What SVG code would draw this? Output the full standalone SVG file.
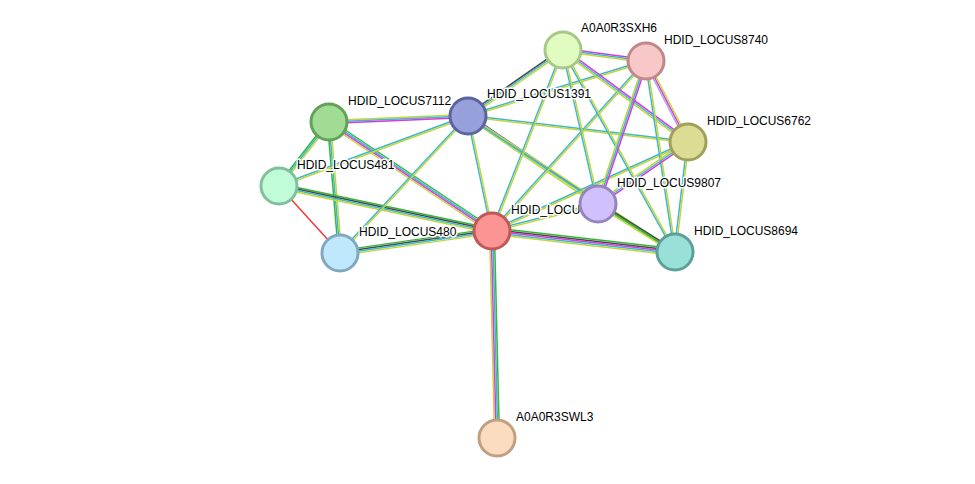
<svg xmlns="http://www.w3.org/2000/svg" width="975" height="484" viewBox="0 0 975 484">
<style>
line{stroke-width:1.5;fill:none}
.c{stroke:#3cb6d8}.y{stroke:#c2d63a}.m{stroke:#d93ad9}.g{stroke:#35b835}.k{stroke:#4a4a4a}.b{stroke:#2b2bf0}.r{stroke:#f03a3a}.l{stroke:#a8a0f0}
circle{stroke-width:3}
text{font-family:"Liberation Sans",Arial,sans-serif;font-size:12px;fill:#000;paint-order:stroke;stroke:#fff;stroke-width:3px;stroke-linejoin:round}
</style>
<rect width="975" height="484" fill="#fff"/>
<g id="edges">
<line class="y" x1="329" y1="122" x2="468" y2="116" transform="translate(0,-1.6)"/>
<line class="c" x1="329" y1="122" x2="468" y2="116"/>
<line class="m" x1="329" y1="122" x2="468" y2="116" transform="translate(0,1.6)"/>
<line class="g" x1="329" y1="122" x2="279" y2="186" transform="translate(-1.26,-0.99)"/>
<line class="c" x1="329" y1="122" x2="279" y2="186"/>
<line class="y" x1="329" y1="122" x2="279" y2="186" transform="translate(1.26,0.99)"/>
<line class="g" x1="329" y1="122" x2="340" y2="253" transform="translate(-1.6,0)"/>
<line class="c" x1="329" y1="122" x2="340" y2="253"/>
<line class="y" x1="329" y1="122" x2="340" y2="253" transform="translate(1.6,0)"/>
<line class="g" x1="329" y1="122" x2="492" y2="231" transform="translate(1.33,-2.0)"/>
<line class="c" x1="329" y1="122" x2="492" y2="231" transform="translate(0.45,-0.67)"/>
<line class="m" x1="329" y1="122" x2="492" y2="231" transform="translate(-0.45,0.67)"/>
<line class="y" x1="329" y1="122" x2="492" y2="231" transform="translate(-1.33,2.0)"/>
<line class="c" x1="279" y1="186" x2="468" y2="116" transform="translate(-0.28,-0.75)"/>
<line class="y" x1="279" y1="186" x2="468" y2="116" transform="translate(0.28,0.75)"/>
<line class="g" x1="279" y1="186" x2="492" y2="231" transform="translate(0.5,-2.34)"/>
<line class="k" x1="279" y1="186" x2="492" y2="231" transform="translate(0.17,-0.78)"/>
<line class="c" x1="279" y1="186" x2="492" y2="231" transform="translate(-0.17,0.78)"/>
<line class="y" x1="279" y1="186" x2="492" y2="231" transform="translate(-0.5,2.34)"/>
<line class="r" x1="279" y1="186" x2="340" y2="253"/>
<line class="c" x1="340" y1="253" x2="468" y2="116" transform="translate(-0.58,-0.55)"/>
<line class="y" x1="340" y1="253" x2="468" y2="116" transform="translate(0.58,0.55)"/>
<line class="g" x1="340" y1="253" x2="492" y2="231" transform="translate(-0.35,-2.37)"/>
<line class="k" x1="340" y1="253" x2="492" y2="231" transform="translate(-0.12,-0.79)"/>
<line class="c" x1="340" y1="253" x2="492" y2="231" transform="translate(0.12,0.79)"/>
<line class="y" x1="340" y1="253" x2="492" y2="231" transform="translate(0.35,2.37)"/>
<line class="c" x1="468" y1="116" x2="492" y2="231" transform="translate(-0.78,0.16)"/>
<line class="y" x1="468" y1="116" x2="492" y2="231" transform="translate(0.78,-0.16)"/>
<line class="b" x1="468" y1="116" x2="598" y2="204" transform="translate(0.9,-1.32)"/>
<line class="y" x1="468" y1="116" x2="598" y2="204"/>
<line class="y" x1="468" y1="116" x2="598" y2="204" transform="translate(-0.9,1.32)"/>
<line class="k" x1="468" y1="116" x2="563" y2="50" transform="translate(-0.91,-1.31)"/>
<line class="c" x1="468" y1="116" x2="563" y2="50"/>
<line class="y" x1="468" y1="116" x2="563" y2="50" transform="translate(0.91,1.31)"/>
<line class="c" x1="468" y1="116" x2="646" y2="61" transform="translate(-0.24,-0.77)"/>
<line class="y" x1="468" y1="116" x2="646" y2="61" transform="translate(0.24,0.77)"/>
<line class="c" x1="468" y1="116" x2="688" y2="142" transform="translate(-0.1,-0.8)"/>
<line class="y" x1="468" y1="116" x2="688" y2="142" transform="translate(0.1,0.8)"/>
<line class="y" x1="468" y1="116" x2="675" y2="252" transform="translate(0.44,-0.67)"/>
<line class="c" x1="468" y1="116" x2="675" y2="252" transform="translate(-0.44,0.67)"/>
<line class="y" x1="492" y1="231" x2="497" y2="438" transform="translate(-2.4,0)"/>
<line class="m" x1="492" y1="231" x2="497" y2="438" transform="translate(-0.8,0)"/>
<line class="c" x1="492" y1="231" x2="497" y2="438" transform="translate(0.8,0)"/>
<line class="g" x1="492" y1="231" x2="497" y2="438" transform="translate(2.4,0)"/>
<line class="g" x1="492" y1="231" x2="675" y2="252" transform="translate(0.36,-3.18)"/>
<line class="k" x1="492" y1="231" x2="675" y2="252" transform="translate(0.18,-1.59)"/>
<line class="m" x1="492" y1="231" x2="675" y2="252"/>
<line class="c" x1="492" y1="231" x2="675" y2="252" transform="translate(-0.18,1.59)"/>
<line class="y" x1="492" y1="231" x2="675" y2="252" transform="translate(-0.36,3.18)"/>
<line class="c" x1="492" y1="231" x2="598" y2="204" transform="translate(-0.2,-0.78)"/>
<line class="y" x1="492" y1="231" x2="598" y2="204" transform="translate(0.2,0.78)"/>
<line class="c" x1="492" y1="231" x2="563" y2="50" transform="translate(-0.75,-0.3)"/>
<line class="y" x1="492" y1="231" x2="563" y2="50" transform="translate(0.75,0.3)"/>
<line class="c" x1="492" y1="231" x2="646" y2="61" transform="translate(-0.6,-0.54)"/>
<line class="y" x1="492" y1="231" x2="646" y2="61" transform="translate(0.6,0.54)"/>
<line class="c" x1="492" y1="231" x2="688" y2="142" transform="translate(-0.33,-0.73)"/>
<line class="y" x1="492" y1="231" x2="688" y2="142" transform="translate(0.33,0.73)"/>
<line class="m" x1="563" y1="50" x2="646" y2="61" transform="translate(0.21,-1.59)"/>
<line class="c" x1="563" y1="50" x2="646" y2="61"/>
<line class="y" x1="563" y1="50" x2="646" y2="61" transform="translate(-0.21,1.59)"/>
<line class="m" x1="563" y1="50" x2="688" y2="142" transform="translate(0.95,-1.29)"/>
<line class="c" x1="563" y1="50" x2="688" y2="142"/>
<line class="y" x1="563" y1="50" x2="688" y2="142" transform="translate(-0.95,1.29)"/>
<line class="c" x1="563" y1="50" x2="598" y2="204" transform="translate(-0.78,0.18)"/>
<line class="y" x1="563" y1="50" x2="598" y2="204" transform="translate(0.78,-0.18)"/>
<line class="c" x1="563" y1="50" x2="675" y2="252" transform="translate(-0.7,0.39)"/>
<line class="y" x1="563" y1="50" x2="675" y2="252" transform="translate(0.7,-0.39)"/>
<line class="l" x1="646" y1="61" x2="688" y2="142" transform="translate(-1.42,0.74)"/>
<line class="m" x1="646" y1="61" x2="688" y2="142"/>
<line class="y" x1="646" y1="61" x2="688" y2="142" transform="translate(1.42,-0.74)"/>
<line class="y" x1="646" y1="61" x2="598" y2="204" transform="translate(-1.52,-0.51)"/>
<line class="c" x1="646" y1="61" x2="598" y2="204"/>
<line class="m" x1="646" y1="61" x2="598" y2="204" transform="translate(1.52,0.51)"/>
<line class="c" x1="646" y1="61" x2="675" y2="252" transform="translate(-0.79,0.12)"/>
<line class="y" x1="646" y1="61" x2="675" y2="252" transform="translate(0.79,-0.12)"/>
<line class="y" x1="688" y1="142" x2="598" y2="204" transform="translate(-0.91,-1.32)"/>
<line class="c" x1="688" y1="142" x2="598" y2="204"/>
<line class="m" x1="688" y1="142" x2="598" y2="204" transform="translate(0.91,1.32)"/>
<line class="c" x1="688" y1="142" x2="675" y2="252" transform="translate(-0.8,-0.1)"/>
<line class="y" x1="688" y1="142" x2="675" y2="252" transform="translate(0.8,0.1)"/>
<line class="k" x1="598" y1="204" x2="675" y2="252" transform="translate(0.84,-1.35)"/>
<line class="g" x1="598" y1="204" x2="675" y2="252"/>
<line class="y" x1="598" y1="204" x2="675" y2="252" transform="translate(-0.84,1.35)"/>
</g>
<g id="labels-under">
<text x="511" y="214">HDID_LOCU</text>
</g>
<g id="n-sxh6"><circle cx="563" cy="50" r="18" fill="#e0fcc0" stroke="#a8c888"/><text x="581" y="32">A0A0R3SXH6</text></g>
<g id="n-8740"><circle cx="646" cy="61" r="18" fill="#f8c8c8" stroke="#c08888"/><text x="664" y="44">HDID_LOCUS8740</text></g>
<g id="n-6762"><circle cx="688" cy="142" r="18" fill="#dcdc94" stroke="#a0a058"/><text x="707" y="125">HDID_LOCUS6762</text></g>
<g id="n-1391"><circle cx="468" cy="116" r="18" fill="#98a0dc" stroke="#5c64a0"/><text x="487" y="98">HDID_LOCUS1391</text></g>
<g id="n-7112"><circle cx="329" cy="122" r="18" fill="#a0dc94" stroke="#64a058"/><text x="348" y="105">HDID_LOCUS7112</text></g>
<g id="n-481"><circle cx="279" cy="186" r="18" fill="#c0fcd8" stroke="#80c09c"/><text x="297" y="169">HDID_LOCUS481</text></g>
<g id="n-480"><circle cx="340" cy="253" r="18" fill="#c0e8fc" stroke="#80a8c0"/><text x="359" y="236">HDID_LOCUS480</text></g>
<g id="n-center"><circle cx="492" cy="231" r="18" fill="#fc9494" stroke="#c05858"/></g>
<g id="n-9807"><circle cx="598" cy="204" r="18" fill="#d0c0fc" stroke="#9484c0"/><text x="617" y="187">HDID_LOCUS9807</text></g>
<g id="n-8694"><circle cx="675" cy="252" r="18" fill="#98e0d8" stroke="#5ca098"/><text x="694" y="235">HDID_LOCUS8694</text></g>
<g id="n-swl3"><circle cx="497" cy="438" r="18" fill="#fcdcc0" stroke="#c0a080"/><text x="516" y="421">A0A0R3SWL3</text></g>
</svg>
